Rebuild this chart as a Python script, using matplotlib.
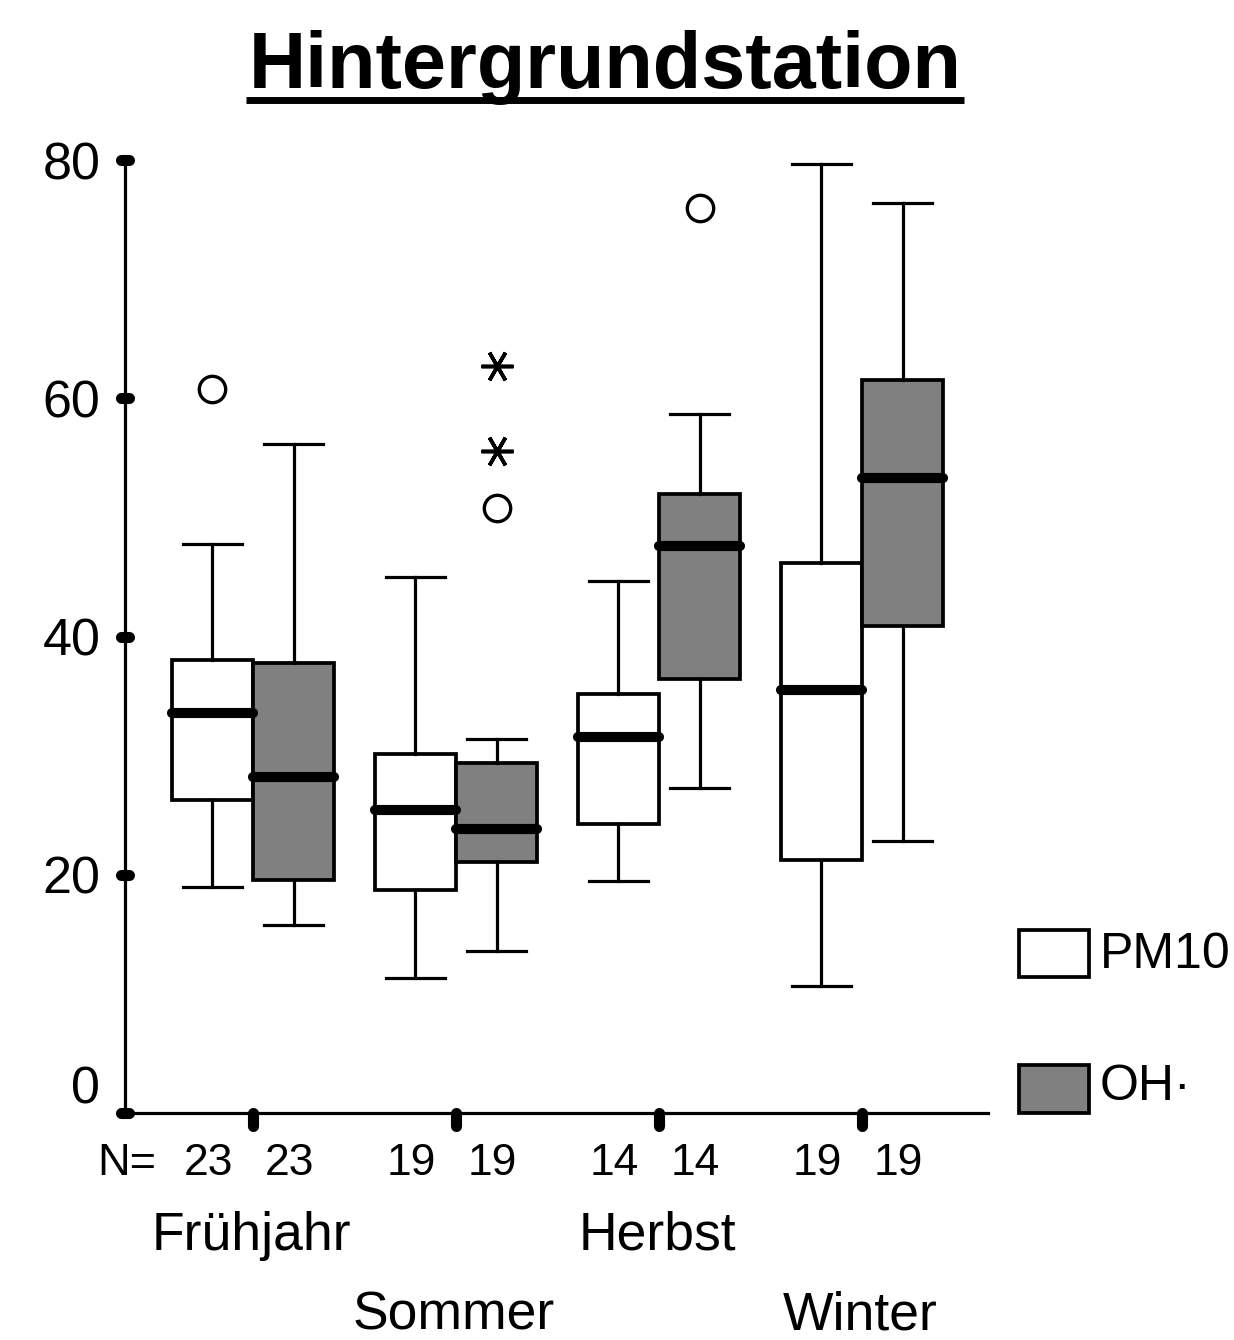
import matplotlib
matplotlib.use('Agg')
import matplotlib.pyplot as plt
from matplotlib.patches import Rectangle
from matplotlib.lines import Line2D
from matplotlib.markers import MarkerStyle
import matplotlib.transforms as mtransforms

plt.rcParams['font.family'] = ['Liberation Sans', 'DejaVu Sans']

# ---------------- data ----------------
seasons = ['Frühjahr', 'Sommer', 'Herbst', 'Winter']
series = ['PM10', 'OH·']
n_pm10 = [23, 19, 14, 19]
n_oh = [23, 19, 14, 19]

pm10_whislo = [19.0, 11.3, 19.5, 10.7]
pm10_q1 = [26.3, 18.7, 24.3, 21.2]
pm10_med = [33.6, 25.4, 31.6, 35.5]
pm10_q3 = [38.0, 30.1, 35.2, 46.2]
pm10_whishi = [47.8, 45.0, 44.7, 79.7]
pm10_outliers = [[60.8], [], [], []]
pm10_extremes = [[], [], [], []]

oh_whislo = [15.8, 13.6, 27.3, 22.8]
oh_q1 = [19.6, 21.1, 36.4, 40.9]
oh_med = [28.2, 23.8, 47.6, 53.3]
oh_q3 = [37.8, 29.4, 52.0, 61.5]
oh_whishi = [56.2, 31.4, 58.7, 76.4]
oh_outliers = [[], [50.8], [76.0], []]
oh_extremes = [[], [62.7, 55.6], [], []]

yticks = [0, 20, 40, 60, 80]
colors = ['white', '#808080']

# ---------------- figure ----------------
W, H = 1234, 1340
fig = plt.figure(figsize=(W / 100, H / 100), dpi=100)
ax = fig.add_axes([125 / W, 1 - 1113 / H, 863 / W, 953 / H])

offset = 0.2
bw = 0.4


def stats(whislo, q1, med, q3, whishi, outl):
    return [dict(whislo=a, q1=b, med=c, q3=d, whishi=e, fliers=f)
            for a, b, c, d, e, f in zip(whislo, q1, med, q3, whishi, outl)]


groups = [
    (stats(pm10_whislo, pm10_q1, pm10_med, pm10_q3, pm10_whishi, pm10_outliers), -offset, colors[0], pm10_extremes),
    (stats(oh_whislo, oh_q1, oh_med, oh_q3, oh_whishi, oh_outliers), offset, colors[1], oh_extremes),
]

star = MarkerStyle((6, 2, 90))
for st, off, col, extremes in groups:
    pos = [i + off for i in range(len(seasons))]
    ax.bxp(st, positions=pos, widths=bw, capwidths=0.29, patch_artist=True,
           manage_ticks=False,
           boxprops=dict(facecolor=col, edgecolor='black', linewidth=2.7),
           whiskerprops=dict(color='black', linewidth=2.3),
           capprops=dict(color='black', linewidth=2.3),
           medianprops=dict(color='black', linewidth=7.3, solid_capstyle='round'),
           flierprops=dict(marker='o', markersize=19, markerfacecolor='none',
                           markeredgecolor='black', markeredgewidth=2.4, linestyle='none'))
    for p, ex in zip(pos, extremes):
        if ex:
            ax.plot([p] * len(ex), ex, linestyle='none', marker=star, markersize=23,
                    markeredgecolor='black', markeredgewidth=2.6, color='black')

ax.set_xlim(-128 / 203, 735 / 203)
ax.set_ylim(0, 80)

for s in ['top', 'right']:
    ax.spines[s].set_visible(False)
for s in ['left', 'bottom']:
    ax.spines[s].set_linewidth(2.3)

ax.set_yticks(yticks)
ax.set_yticklabels([str(v) for v in yticks])
ax.set_xticks(range(len(seasons)))
ax.set_xticklabels([])
ax.tick_params(axis='y', direction='inout', length=5.5, width=8, labelsize=37.5, pad=15)
ax.tick_params(axis='x', direction='out', length=9.5, width=8)

for t in ax.yaxis.get_major_ticks():
    t.tick1line.set_marker(MarkerStyle('_', capstyle='round'))
for t in ax.xaxis.get_major_ticks():
    t.tick1line.set_marker(MarkerStyle(3, capstyle='round'))  # TICKDOWN

# shift the "0" label upward as in the original
lab0 = ax.yaxis.get_major_ticks()[0].label1
lab0.set_transform(lab0.get_transform() +
                   mtransforms.ScaledTranslation(0, 28 / 100, fig.dpi_scale_trans))

# N labels and season labels
xt = ax.get_xaxis_transform()
ax_h = 953.0
y_n = -(1175 - 1113) / ax_h
ax.text(0.002, y_n, 'N=', transform=ax.transAxes,
        ha='center', va='baseline', fontsize=32.5)
for i in range(len(seasons)):
    ax.text(i - offset - 0.02, y_n, str(n_pm10[i]), transform=xt, ha='center', va='baseline', fontsize=32)
    ax.text(i + offset - 0.02, y_n, str(n_oh[i]), transform=xt, ha='center', va='baseline', fontsize=32)
    base = 1250 if i % 2 == 0 else 1329
    ax.text(i - 0.01, -(base - 1113) / ax_h, seasons[i], transform=xt,
            ha='center', va='baseline', fontsize=38.5)

# title with underline
title = fig.text(605 / W, 1 - 88 / H, 'Hintergrundstation', ha='center', va='baseline',
                 fontsize=57, fontweight='bold')
fig.canvas.draw()
bb = title.get_window_extent()
uy = 1 - 100 / H
fig.add_artist(Line2D([(bb.x0 - 3) / W, (bb.x1 + 3) / W], [uy, uy],
                      transform=fig.transFigure, color='black', linewidth=5,
                      solid_capstyle='butt'))

# legend (manual, in figure pixels)
leg_rows = [(930, 977, 968), (1065, 1113, 1100)]
for (top, bot, base), lab, col in zip(leg_rows, series, colors):
    fig.add_artist(Rectangle((1018.5 / W, 1 - bot / H), 70 / W, (bot - top) / H,
                             transform=fig.transFigure, facecolor=col,
                             edgecolor='black', linewidth=2.7))
    fig.text(1100 / W, 1 - base / H, lab, ha='left', va='baseline', fontsize=36)

fig.savefig('out.png', dpi=100)
